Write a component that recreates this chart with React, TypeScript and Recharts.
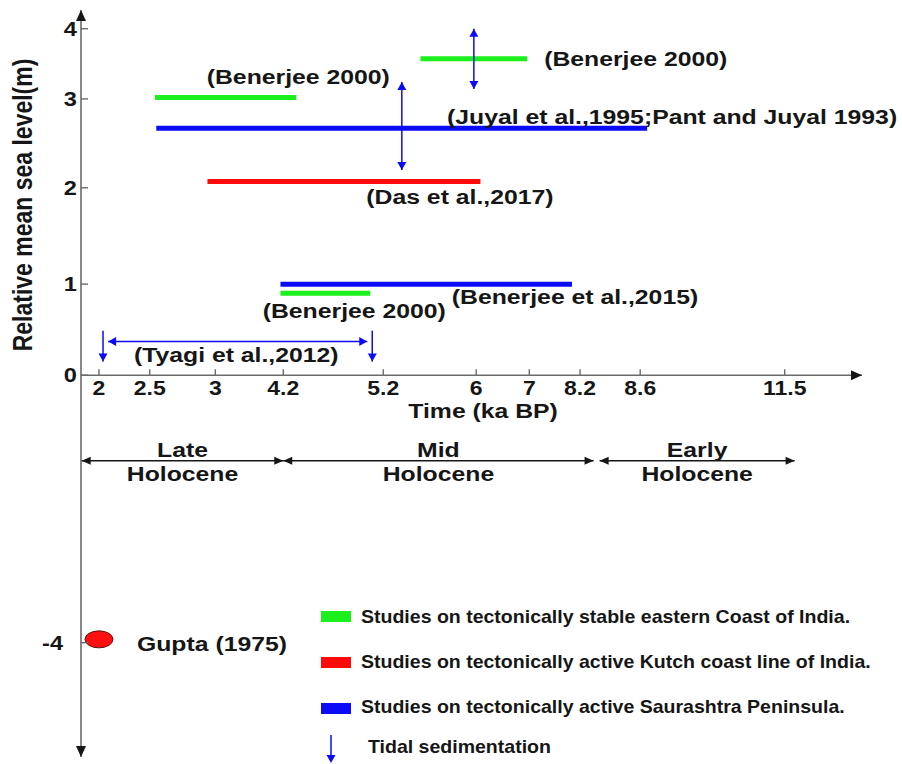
import { ScatterChart, Scatter, XAxis, YAxis, ReferenceLine, ReferenceDot } from 'recharts';

const W = 902;
const H = 764;
const FONT = "'Liberation Sans', Arial, Helvetica, sans-serif";
const INK = '#161616';
const AXIS = '#6a6a6a';
const GREEN = '#1cf01c';
const RED = '#ff0a0a';
const BLUE = '#0b0bf5';
const SX = 1.18; // the original figure is stretched sideways

// irregular time axis: tick value (ka BP) -> place along the axis (0..1)
const timeTicks = [2, 2.5, 3, 4.2, 5.2, 6, 7, 8.2, 8.6, 11.5];
const timeTickPlace = [0.023, 0.088, 0.172, 0.259, 0.387, 0.506, 0.574, 0.639, 0.716, 0.901];

// irregular level axis: tick value (m) -> place along the axis (0 bottom .. 1 top)
const levelTicks = [-4, 0, 1, 2, 3, 4];
const levelTickPlace = [0.153, 0.511, 0.633, 0.762, 0.881, 0.975];

// study ranges (ka BP from/to, level in m)
const stableCoast = [
  { from: 2.54, to: 4.33, level: 3.02 },
  { from: 5.52, to: 6.96, level: 3.57 },
  { from: 4.15, to: 5.07, level: 0.9 },
];
const kutchCoast = [{ from: 2.94, to: 6.08, level: 2.07 }];
const saurashtra = [
  { from: 2.55, to: 8.74, level: 2.67 },
  { from: 4.15, to: 8.01, level: 1.0 },
];

const studyLabels = [
  { text: '(Benerjee 2000)', time: 4.35, level: 3.31 },
  { text: '(Benerjee 2000)', time: 8.57, level: 3.57 },
  { text: '(Juyal et al.,1995;Pant and Juyal 1993)', time: 9.24, level: 2.8 },
  { text: '(Das et al.,2017)', time: 5.86, level: 1.91 },
  { text: '(Benerjee 2000)', time: 4.91, level: 0.71 },
  { text: '(Benerjee et al.,2015)', time: 8.08, level: 0.86 },
  { text: '(Tyagi et al.,2012)', time: 3.37, level: 0.23 },
];

// vertical double arrows (range of level)
const levelRanges = [
  { time: 5.36, low: 2.2, high: 3.24 },
  { time: 5.98, low: 3.14, high: 4.0 },
];
// Tyagi et al. time span
const tyagiSpan = { from: 2.09, to: 5.04, level: 0.37 };
// tidal sedimentation marks
const tidalMarks = [
  { time: 2.04, top: 0.49, bottom: 0.15 },
  { time: 5.09, top: 0.49, bottom: 0.15 },
];

const holocene = [
  { name: 'Late', from: 1.83, to: 4.2 },
  { name: 'Mid', from: 4.2, to: 8.29 },
  { name: 'Early', from: 8.33, to: 11.7 },
];
const holoceneLevel = -1.28;

const gupta = { time: 2.0, level: -3.95, text: 'Gupta (1975)' };

const legendRows = [
  { color: GREEN, text: 'Studies on tectonically stable eastern Coast of India.' },
  { color: RED, text: 'Studies on tectonically active Kutch coast line of India.' },
  { color: BLUE, text: 'Studies on tectonically active Saurashtra Peninsula.' },
];

function interp(v: number, vals: number[], places: number[]) {
  let i = 0;
  while (i < vals.length - 2 && v > vals[i + 1]) i++;
  const t = (v - vals[i]) / (vals[i + 1] - vals[i]);
  return places[i] + t * (places[i + 1] - places[i]);
}
const xp = (t: number) => interp(t, timeTicks, timeTickPlace);
const yp = (v: number) => interp(v, levelTicks, levelTickPlace);

function Txt({ x, y, size, sx = SX, anchor = 'middle', rotate = 0, children }: any) {
  const rot = rotate ? ` rotate(${rotate})` : '';
  return (
    <text
      transform={`translate(${x},${y}) scale(${sx},1)${rot}`}
      textAnchor={anchor}
      dominantBaseline="central"
      fontFamily={FONT}
      fontWeight="bold"
      fontSize={size}
      fill={INK}
    >
      {children}
    </text>
  );
}

function headPoints(cx: number, cy: number, dir: string, len: number, half: number) {
  switch (dir) {
    case 'up':
      return `${cx},${cy} ${cx - half},${cy + len} ${cx + half},${cy + len}`;
    case 'down':
      return `${cx},${cy} ${cx - half},${cy - len} ${cx + half},${cy - len}`;
    case 'left':
      return `${cx},${cy} ${cx + len},${cy - half} ${cx + len},${cy + half}`;
    default:
      return `${cx},${cy} ${cx - len},${cy - half} ${cx - len},${cy + half}`;
  }
}

function arrowSeries(key: string, pts: any[], color: string, width: number, len: number, half: number) {
  return (
    <Scatter
      key={key}
      data={pts}
      isAnimationActive={false}
      line={{ stroke: color, strokeWidth: width }}
      shape={(p: any) =>
        p.payload.dir ? <polygon points={headPoints(p.cx, p.cy, p.payload.dir, len, half)} fill={color} /> : <g />
      }
    />
  );
}

function barSeries(key: string, r: { from: number; to: number; level: number }, color: string) {
  return (
    <Scatter
      key={key}
      data={[
        { x: xp(r.from), y: yp(r.level) },
        { x: xp(r.to), y: yp(r.level) },
      ]}
      isAnimationActive={false}
      line={{ stroke: color, strokeWidth: 5 }}
      shape={() => <g />}
    />
  );
}

function LevelTick({ x, y, payload }: any) {
  const i = levelTickPlace.indexOf(payload.value);
  const v = levelTicks[i];
  return (
    <g>
      <line x1={x} x2={x + 7} y1={y} y2={y} stroke={AXIS} strokeWidth={1.4} />
      <Txt x={v < 0 ? x - 18 : x - 4} y={y} size={20} anchor="end">
        {String(v)}
      </Txt>
    </g>
  );
}

export default function App() {
  const axisY = yp(0);
  return (
    <div style={{ position: 'absolute', left: 0, top: 0, width: W, height: H, background: '#fff' }}>
      <ScatterChart width={W} height={H} margin={{ top: 10, right: 40, bottom: 7, left: 0 }}>
        <XAxis type="number" dataKey="x" domain={[0, 1]} hide />
        <YAxis
          type="number"
          dataKey="y"
          domain={[0, 1]}
          width={81}
          ticks={levelTickPlace}
          interval={0}
          tickSize={0}
          tickMargin={0}
          tickLine={false}
          axisLine={{ stroke: AXIS, strokeWidth: 1.6 }}
          tick={(p: any) => <LevelTick {...p} />}
          label={{
            value: 'Relative mean sea level(m)',
            content: () => (
              <Txt x={22} y={205} size={23} rotate={-90}>
                Relative mean sea level(m)
              </Txt>
            ),
          }}
        />

        {/* time axis drawn at level 0 */}
        <ReferenceLine y={axisY} stroke={AXIS} strokeWidth={1.6} />
        <ReferenceDot
          x={1}
          y={axisY}
          r={1}
          ifOverflow="visible"
          shape={(p: any) => <polygon points={headPoints(p.cx, p.cy, 'right', 11, 5)} fill={INK} />}
        />
        <ReferenceDot
          x={0}
          y={1}
          r={1}
          ifOverflow="visible"
          shape={(p: any) => <polygon points={headPoints(p.cx, p.cy, 'up', 11, 5)} fill={INK} />}
        />
        <ReferenceDot
          x={0}
          y={0}
          r={1}
          ifOverflow="visible"
          shape={(p: any) => <polygon points={headPoints(p.cx, p.cy, 'down', 11, 5)} fill={INK} />}
        />
        {timeTicks.map((t) => (
          <ReferenceDot
            key={`tick-${t}`}
            x={xp(t)}
            y={axisY}
            r={1}
            ifOverflow="visible"
            shape={(p: any) => (
              <g>
                <line x1={p.cx} x2={p.cx} y1={p.cy - 6} y2={p.cy} stroke={AXIS} strokeWidth={1.4} />
                <Txt x={p.cx} y={p.cy + 13} size={20} sx={1.15}>
                  {String(t)}
                </Txt>
              </g>
            )}
          />
        ))}
        <ReferenceDot
          x={xp(6.13)}
          y={axisY}
          r={1}
          ifOverflow="visible"
          shape={(p: any) => (
            <Txt x={p.cx} y={p.cy + 35} size={21}>
              Time (ka BP)
            </Txt>
          )}
        />

        {/* study ranges */}
        {stableCoast.map((r, i) => barSeries(`g${i}`, r, GREEN))}
        {kutchCoast.map((r, i) => barSeries(`r${i}`, r, RED))}
        {saurashtra.map((r, i) => barSeries(`b${i}`, r, BLUE))}

        {/* arrows */}
        {levelRanges.map((a, i) =>
          arrowSeries(
            `lr${i}`,
            [
              { x: xp(a.time), y: yp(a.high), dir: 'up' },
              { x: xp(a.time), y: yp(a.low), dir: 'down' },
            ],
            BLUE,
            1.5,
            8,
            4.5
          )
        )}
        {arrowSeries(
          'tyagi',
          [
            { x: xp(tyagiSpan.from), y: yp(tyagiSpan.level), dir: 'left' },
            { x: xp(tyagiSpan.to), y: yp(tyagiSpan.level), dir: 'right' },
          ],
          BLUE,
          1.5,
          8,
          4.5
        )}
        {tidalMarks.map((m, i) =>
          arrowSeries(
            `tide${i}`,
            [
              { x: xp(m.time), y: yp(m.top), dir: null },
              { x: xp(m.time), y: yp(m.bottom), dir: 'down' },
            ],
            BLUE,
            1.5,
            8,
            4.5
          )
        )}

        {/* Holocene divisions */}
        {holocene.map((h) =>
          arrowSeries(
            `hol-${h.name}`,
            [
              { x: xp(h.from), y: yp(holoceneLevel), dir: 'left' },
              { x: xp(h.to), y: yp(holoceneLevel), dir: 'right' },
            ],
            INK,
            1.5,
            9,
            4
          )
        )}
        {holocene.map((h) => (
          <ReferenceDot
            key={`holname-${h.name}`}
            x={(xp(h.from) + xp(h.to)) / 2}
            y={yp(holoceneLevel)}
            r={1}
            ifOverflow="visible"
            shape={(p: any) => (
              <g>
                <Txt x={p.cx} y={p.cy - 11} size={21}>
                  {h.name}
                </Txt>
                <Txt x={p.cx} y={p.cy + 13} size={21}>
                  Holocene
                </Txt>
              </g>
            )}
          />
        ))}

        {/* study labels */}
        {studyLabels.map((l, i) => (
          <ReferenceDot
            key={`lbl${i}`}
            x={xp(l.time)}
            y={yp(l.level)}
            r={1}
            ifOverflow="visible"
            shape={(p: any) => (
              <Txt x={p.cx} y={p.cy} size={21}>
                {l.text}
              </Txt>
            )}
          />
        ))}

        {/* Gupta (1975) */}
        <Scatter
          data={[{ x: xp(gupta.time), y: yp(gupta.level) }]}
          isAnimationActive={false}
          shape={(p: any) => (
            <g>
              <ellipse cx={p.cx} cy={p.cy} rx={14} ry={8.5} fill="#ff1010" stroke="#5a1010" strokeWidth={1} />
              <Txt x={p.cx + 38} y={p.cy + 4} size={21} anchor="start">
                {gupta.text}
              </Txt>
            </g>
          )}
        />
      </ScatterChart>

      {/* legend */}
      <svg width={W} height={H} style={{ position: 'absolute', left: 0, top: 0, pointerEvents: 'none' }}>
        {legendRows.map((row, i) => (
          <g key={row.text}>
            <rect x={321} y={611 + i * 46} width={30} height={11} fill={row.color} />
            <Txt x={361} y={616.5 + i * 45} size={18} sx={1.085} anchor="start">
              {row.text}
            </Txt>
          </g>
        ))}
        <line x1={331} x2={331} y1={735} y2={756} stroke={BLUE} strokeWidth={1.5} />
        <polygon points={headPoints(331, 763, 'down', 8, 4.5)} fill={BLUE} />
        <Txt x={368} y={747} size={18} sx={1.085} anchor="start">
          Tidal sedimentation
        </Txt>
      </svg>
    </div>
  );
}
